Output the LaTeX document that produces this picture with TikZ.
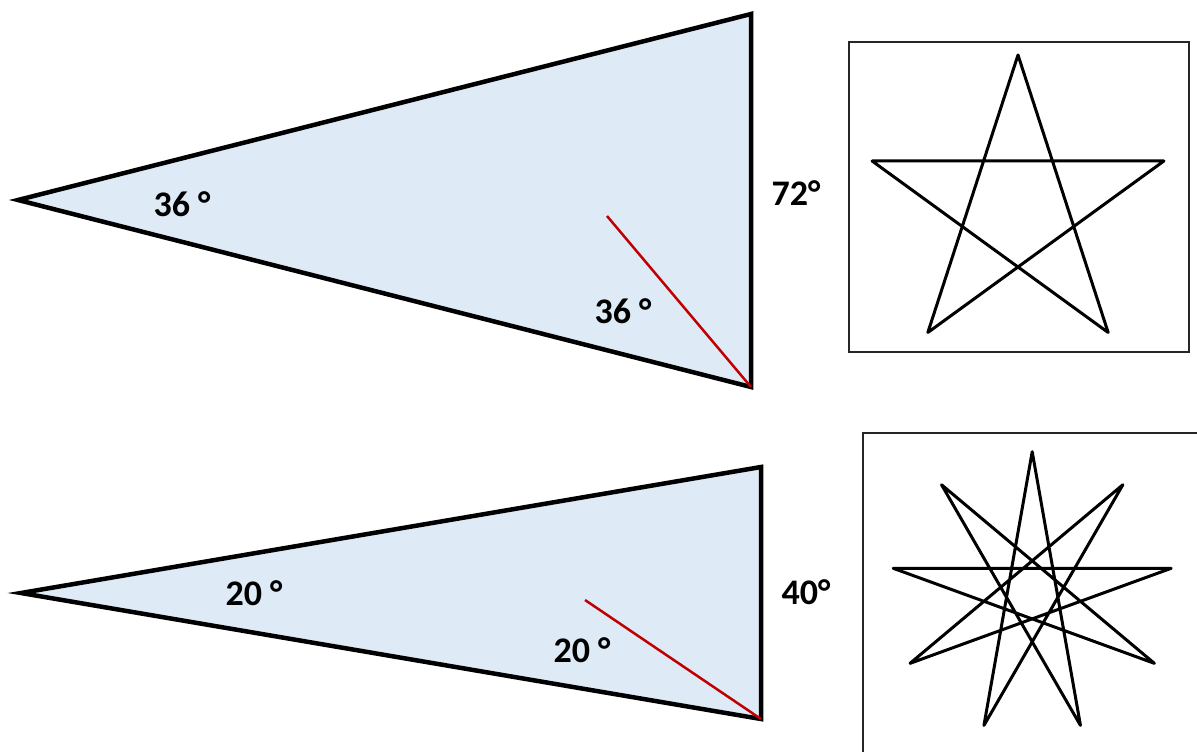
\documentclass[tikz,border=0pt]{standalone}
\usepackage{fontspec}
\setmainfont{Carlito}
\definecolor{wedgefill}{RGB}{222,234,246}
\definecolor{cutred}{RGB}{192,0,0}
\tikzset{
  wedge/.style={fill=wedgefill, draw=black, line width=4.5pt, line join=miter},
  cut/.style={draw=cutred, line width=2.5pt},
  angle label/.style={font=\fontsize{36}{36}\selectfont\bfseries, inner sep=0pt},
  starline/.style={line width=3pt, line join=round, line cap=round},
  frame/.style={draw=black!85, line width=1.2pt},
}
\begin{document}
\begin{tikzpicture}[x=1pt,y=-1pt]
\useasboundingbox (0,0) rectangle (1197,752);
% Upper triangle, 36-72-72
\coordinate (A1) at (18,200);
\coordinate (B1) at (751,14);
\coordinate (C1) at (751,387);
\coordinate (R1) at (607,216);
\draw[wedge] (A1) -- (B1) -- (C1) -- cycle;
\draw[cut] (C1) -- (R1);
\node[angle label] (apex1) at (182,204) {36 °};
\node[angle label] (base1) at (623,311) {36 °};
\node[angle label] (side1) at (796,193) {72°};
% Lower triangle, 20-80-80
\coordinate (A2) at (21,593);
\coordinate (B2) at (761,467);
\coordinate (C2) at (761,719);
\coordinate (R2) at (585,600);
\draw[wedge] (A2) -- (B2) -- (C2) -- cycle;
\draw[cut] (C2) -- (R2);
\node[angle label] (apex2) at (254,593) {20 °};
\node[angle label] (base2) at (582,650) {20 °};
\node[angle label] (side2) at (806,592) {40°};
% Pentagram in its frame
\draw[frame] (849,42) rectangle (1189,352);
\foreach \i in {0,...,4}
  \coordinate (p\i) at ({1018+153.4*cos(90+72*\i)},{208.4-153.4*sin(90+72*\i)});
\draw[starline] (p0) -- (p2) -- (p4) -- (p1) -- (p3) -- cycle;
% Nonagram {9/4}, frame runs off the page
\coordinate (F1) at (1197,433);
\coordinate (F2) at (863,433);
\coordinate (F3) at (863,752);
\draw[frame] (F1) -- (F2) -- (F3);
\foreach \i in {0,...,8}
  \coordinate (n\i) at ({1032.2+141.1*cos(90+40*\i)},{592.8-141.1*sin(90+40*\i)});
\draw[starline] (n0) -- (n4) -- (n8) -- (n3) -- (n7) -- (n2) -- (n6) -- (n1) -- (n5) -- cycle;
\end{tikzpicture}
\end{document}
